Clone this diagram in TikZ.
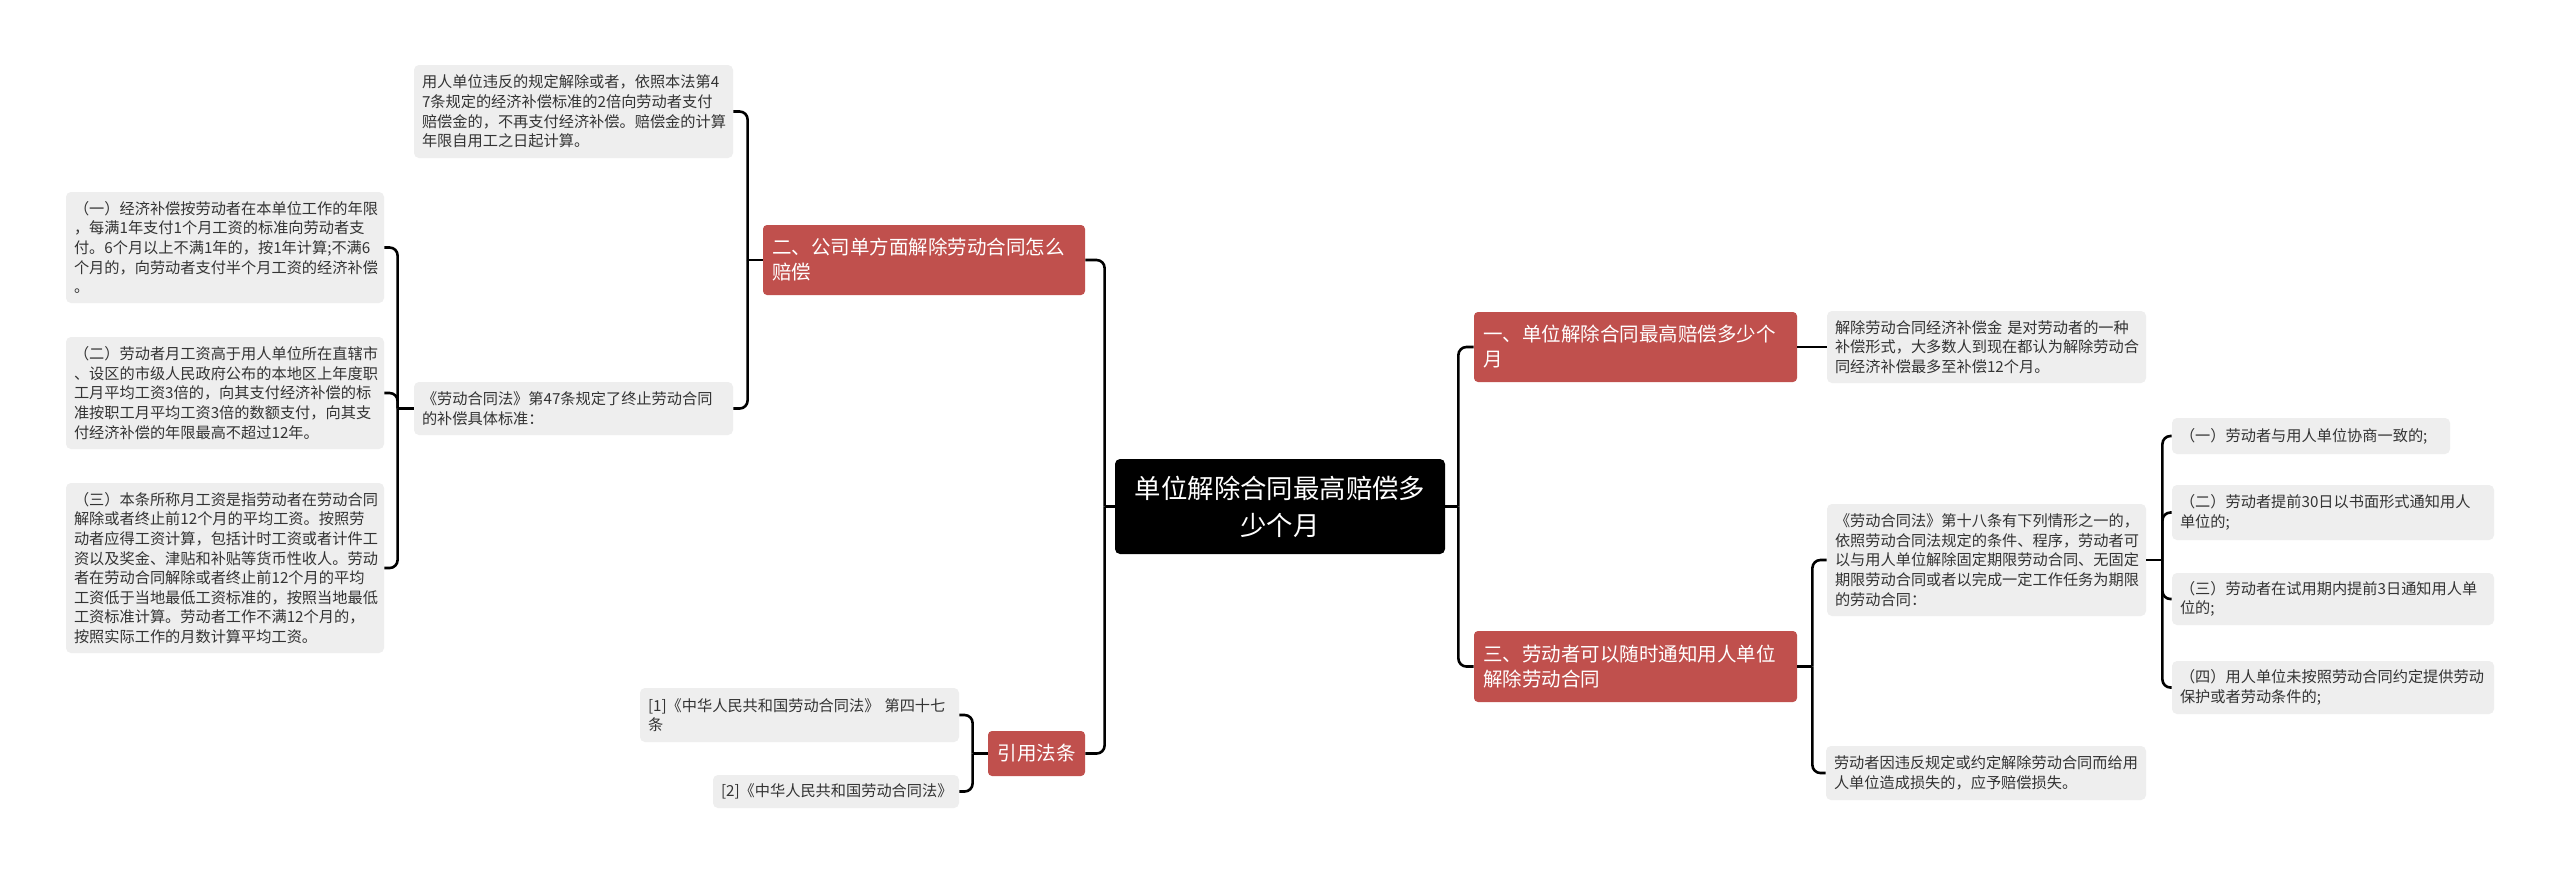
\documentclass[tikz,border=0pt]{standalone}
\usepackage{fontspec}
\setmainfont{Noto Sans CJK SC}
\usetikzlibrary{calc}
\definecolor{redbox}{HTML}{C0504D}
\definecolor{leaffill}{HTML}{EEEEEE}
\definecolor{leaftext}{HTML}{333333}
\begin{document}
\begin{tikzpicture}[x=1pt,y=-1pt,
  leaf/.style={fill=leaffill, text=leaftext, rounded corners=2.5pt, align=left, inner xsep=4pt, inner ysep=2pt, font=\fontsize{7.6}{9.8}\selectfont},
  topic/.style={fill=redbox, text=white, rounded corners=2pt, align=left, inner xsep=4.5pt, inner ysep=2pt, font=\fontsize{9.75}{12.5}\selectfont},
  rootbox/.style={fill=black, text=white, rounded corners=2.5pt, align=center, font=\fontsize{13.2}{18.5}\selectfont},
  conn/.style={draw=black, line width=1.3pt, rounded corners=4pt}]
\useasboundingbox[fill=white] (0,0) rectangle (1280,437.5);

% root
\node[rootbox, minimum width=165pt, minimum height=47.5pt] (root) at (640,253.25) {单位解除合同最高赔偿多\\少个月};

% topics
\node[topic, minimum width=161pt, minimum height=35pt, text width=152pt] (n2) at (462,130) {二、公司单方面解除劳动合同怎么\\赔偿};
\node[topic, align=center, minimum width=48.5pt, minimum height=22.5pt] (ny) at (518.25,376.75) {引用法条};
\node[topic, minimum width=161.5pt, minimum height=35pt, text width=152.5pt] (n1) at (817.75,173.5) {一、单位解除合同最高赔偿多少个\\月};
\node[topic, minimum width=161.5pt, minimum height=35.5pt, text width=152.5pt] (n3) at (817.75,333.25) {三、劳动者可以随时通知用人单位\\解除劳动合同};

% left leaves
\node[leaf, minimum width=159.5pt, minimum height=46.5pt, text width=151.5pt] (L1) at (286.75,55.75) {用人单位违反的规定解除或者，依照本法第4\\7条规定的经济补偿标准的2倍向劳动者支付\\赔偿金的，不再支付经济补偿。赔偿金的计算\\年限自用工之日起计算。};
\node[leaf, minimum width=159.5pt, minimum height=26.5pt, text width=151.5pt] (L5) at (286.75,204.25) {《劳动合同法》第47条规定了终止劳动合同\\的补偿具体标准：};
\node[leaf, minimum width=159pt, minimum height=55.5pt, text width=151pt] (L2) at (112.5,123.75) {（一）经济补偿按劳动者在本单位工作的年限\\，每满1年支付1个月工资的标准向劳动者支\\付。6个月以上不满1年的，按1年计算;不满6\\个月的，向劳动者支付半个月工资的经济补偿\\。};
\node[leaf, minimum width=159pt, minimum height=56pt, text width=151pt] (L3) at (112.5,196.5) {（二）劳动者月工资高于用人单位所在直辖市\\、设区的市级人民政府公布的本地区上年度职\\工月平均工资3倍的，向其支付经济补偿的标\\准按职工月平均工资3倍的数额支付，向其支\\付经济补偿的年限最高不超过12年。};
\node[leaf, minimum width=159pt, minimum height=85pt, text width=151pt] (L4) at (112.5,284) {（三）本条所称月工资是指劳动者在劳动合同\\解除或者终止前12个月的平均工资。按照劳\\动者应得工资计算，包括计时工资或者计件工\\资以及奖金、津贴和补贴等货币性收人。劳动\\者在劳动合同解除或者终止前12个月的平均\\工资低于当地最低工资标准的，按照当地最低\\工资标准计算。劳动者工作不满12个月的，\\按照实际工作的月数计算平均工资。};
\node[leaf, minimum width=159.5pt, minimum height=27pt, text width=151.5pt] (R1) at (399.75,357.5) {[1]《中华人民共和国劳动合同法》~第四十七\\条};
\node[leaf, minimum width=123pt, minimum height=16.5pt, text width=115pt] (R2) at (418,395.75) {[2]《中华人民共和国劳动合同法》};

% right leaves
\node[leaf, minimum width=159.5pt, minimum height=36pt, text width=151.5pt] (A1) at (993.25,173.5) {解除劳动合同经济补偿金~是对劳动者的一种\\补偿形式，大多数人到现在都认为解除劳动合\\同经济补偿最多至补偿12个月。};
\node[leaf, minimum width=159.5pt, minimum height=56pt, text width=151.5pt] (B1) at (993.25,280) {《劳动合同法》第十八条有下列情形之一的，\\依照劳动合同法规定的条件、程序，劳动者可\\以与用人单位解除固定期限劳动合同、无固定\\期限劳动合同或者以完成一定工作任务为期限\\的劳动合同：};
\node[leaf, minimum width=160pt, minimum height=27pt, text width=152pt] (B2) at (993,386.5) {劳动者因违反规定或约定解除劳动合同而给用\\人单位造成损失的，应予赔偿损失。};
\node[leaf, minimum width=139pt, minimum height=18pt, text width=131pt] (C1) at (1155.5,218) {（一）劳动者与用人单位协商一致的;};
\node[leaf, minimum width=161pt, minimum height=27.5pt, text width=153pt] (C2) at (1166.5,256.25) {（二）劳动者提前30日以书面形式通知用人\\单位的;};
\node[leaf, minimum width=161pt, minimum height=26pt, text width=153pt] (C3) at (1166.5,299.5) {（三）劳动者在试用期内提前3日通知用人单\\位的;};
\node[leaf, minimum width=161pt, minimum height=26.5pt, text width=153pt] (C4) at (1166.5,343.75) {（四）用人单位未按照劳动合同约定提供劳动\\保护或者劳动条件的;};

% spine points
\coordinate (s0L) at ($(root.west)+(-5,0)$);
\coordinate (s0R) at ($(root.east)+(6.5,0)$);
\coordinate (s2) at ($(n2.west)+(-7.5,0)$);
\coordinate (s5) at ($(L5.west)+(-8,0)$);
\coordinate (sy) at ($(ny.west)+(-7.5,0)$);
\coordinate (s3) at ($(n3.east)+(7.5,0)$);
\coordinate (sB) at ($(B1.east)+(8,0)$);

% connectors
\draw[conn] (root.west) -- (s0L);
\draw[conn] (s0L) |- (n2.east);
\draw[conn] (s0L) |- (ny.east);
\draw[conn] (root.east) -- (s0R);
\draw[conn] (s0R) |- (n1.west);
\draw[conn] (s0R) |- (n3.west);

\draw[conn] (n2.west) -- (s2);
\draw[conn] (s2) |- (L1.east);
\draw[conn] (s2) |- (L5.east);

\draw[conn] (L5.west) -- (s5);
\draw[conn] (s5) |- (L2.east);
\draw[conn] (s5) |- (L3.east);
\draw[conn] (s5) |- (L4.east);

\draw[conn] (ny.west) -- (sy);
\draw[conn] (sy) |- (R1.east);
\draw[conn] (sy) |- (R2.east);

\draw[conn] (n1.east) -- (A1.west);

\draw[conn] (n3.east) -- (s3);
\draw[conn] (s3) |- (B1.west);
\draw[conn] (s3) |- (B2.west);

\draw[conn] (B1.east) -- (sB);
\draw[conn] (sB) |- (C1.west);
\draw[conn] (sB) |- (C2.west);
\draw[conn] (sB) |- (C3.west);
\draw[conn] (sB) |- (C4.west);
\end{tikzpicture}
\end{document}
